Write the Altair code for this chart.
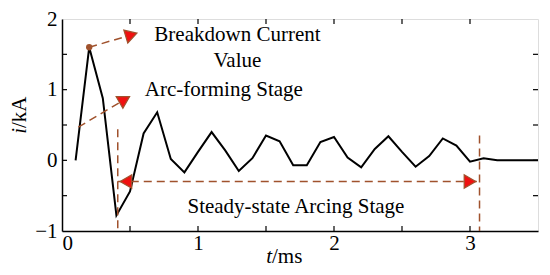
import altair as alt
import pandas as pd

# waveform
t_ms = [0.1, 0.2, 0.3, 0.4, 0.5, 0.6, 0.7, 0.8, 0.9, 1.0, 1.1, 1.2, 1.3, 1.4, 1.5, 1.6, 1.7, 1.8,
        1.9, 2.0, 2.1, 2.2, 2.3, 2.4, 2.5, 2.6, 2.7, 2.8, 2.9, 3.0, 3.1, 3.2, 3.3, 3.4, 3.5]
i_ka = [0.0, 1.6, 0.88, -0.78, -0.44, 0.38, 0.68, 0.02, -0.17, 0.12, 0.40, 0.14, -0.15, 0.03, 0.35,
        0.27, -0.07, -0.07, 0.26, 0.33, 0.04, -0.10, 0.16, 0.34, 0.12, -0.09, 0.06, 0.31, 0.21,
        -0.02, 0.03, 0.0, 0.0, 0.0, 0.0]

x_labels = [0, 1, 2, 3]
x_ticks = [0.5, 1, 1.5, 2, 2.5, 3]
y_labels = [-1, -0.5, 0, 0.5, 1, 1.5, 2]
y_ticks = [-0.5, 0, 0.5, 1, 1.5]

# annotations
peak_t, peak_i = [0.2], [1.6]
seg_id = ["bd", "bd", "af", "af", "v1", "v1", "v2", "v2", "h", "h"]
seg_t = [0.2, 0.5, 0.12, 0.46, 0.41, 0.41, 3.07, 3.07, 0.41, 3.07]
seg_i = [1.6, 1.77, 0.47, 0.86, 0.44, -1.0, 0.35, -1.0, -0.30, -0.30]
head_t = [0.51, 0.46, 0.47, 3.0]
head_i = [1.775, 0.86, -0.30, -0.30]
head_shape = ["triangle-right", "triangle-right", "triangle-left", "triangle-right"]
head_angle = [343, 330, 0, 0]
txt = ["Breakdown Current", "Value", "Arc-forming Stage", "Steady-state Arcing Stage"]
txt_t = [1.29, 1.29, 1.19, 1.72]
txt_i = [1.77, 1.40, 1.00, -0.66]

W, H = 476, 212
FONT = "'Liberation Serif', 'Times New Roman', 'DejaVu Serif', serif"
FS = 21
BROWN = "#A0522D"
RED = "#F01010"

xs = alt.Scale(domain=[0, 3.5], nice=False, zero=False)
ys = alt.Scale(domain=[-1, 2], nice=False, zero=False)

df = pd.DataFrame({"t": t_ms, "i": i_ka})
line = alt.Chart(df).mark_line(color="black", strokeWidth=2).encode(
    x=alt.X("t:Q", scale=xs, axis=alt.Axis(values=x_labels, title=None, ticks=False, grid=False,
                                           labelFont=FONT, labelFontSize=FS, labelColor="black",
                                           domainColor="black", domainWidth=1.5, labelPadding=1,
                                           format="~g")),
    y=alt.Y("i:Q", scale=ys, axis=alt.Axis(values=y_labels, title=None, ticks=False, grid=False,
                                           labelFont=FONT, labelFontSize=FS, labelColor="black",
                                           domainColor="black", domainWidth=1.5, labelPadding=5,
                                           format="~g")),
)

dxt = pd.DataFrame({"v": x_ticks})
dyt = pd.DataFrame({"v": y_ticks})
tick_b = alt.Chart(dxt).mark_rule(color="black", strokeWidth=1.2).encode(
    x=alt.X("v:Q", scale=xs), y=alt.value(H), y2=alt.value(H - 5))
tick_t = alt.Chart(dxt).mark_rule(color="black", strokeWidth=1.2).encode(
    x=alt.X("v:Q", scale=xs), y=alt.value(0), y2=alt.value(5))
tick_l = alt.Chart(dyt).mark_rule(color="black", strokeWidth=1.2).encode(
    y=alt.Y("v:Q", scale=ys), x=alt.value(0), x2=alt.value(5))
tick_r = alt.Chart(dyt).mark_rule(color="black", strokeWidth=1.2).encode(
    y=alt.Y("v:Q", scale=ys), x=alt.value(W), x2=alt.value(W - 5))

dseg = pd.DataFrame({"id": seg_id, "t": seg_t, "i": seg_i, "o": list(range(len(seg_id)))})
segs = alt.Chart(dseg).mark_line(color=BROWN, strokeWidth=1.5, strokeDash=[8, 5]).encode(
    x=alt.X("t:Q", scale=xs), y=alt.Y("i:Q", scale=ys), detail="id:N", order="o:Q")

dhead = pd.DataFrame({"t": head_t, "i": head_i, "s": head_shape, "a": head_angle})
heads = alt.Chart(dhead).mark_point(filled=True, fill=RED, stroke=BROWN, strokeWidth=1.2,
                                    size=180, opacity=1).encode(
    x=alt.X("t:Q", scale=xs), y=alt.Y("i:Q", scale=ys),
    shape=alt.Shape("s:N", scale=None), angle=alt.Angle("a:Q", scale=None))

dpk = pd.DataFrame({"t": peak_t, "i": peak_i})
peak = alt.Chart(dpk).mark_circle(color=BROWN, size=40, opacity=1).encode(
    x=alt.X("t:Q", scale=xs), y=alt.Y("i:Q", scale=ys))

dtxt = pd.DataFrame({"t": txt_t, "i": txt_i, "s": txt})
texts = alt.Chart(dtxt).mark_text(font=FONT, fontSize=FS, color="black", align="center",
                                  baseline="middle").encode(
    x=alt.X("t:Q", scale=xs), y=alt.Y("i:Q", scale=ys), text="s:N")

# axis titles (italic variable + unit)
xt1 = alt.Chart().mark_text(font=FONT, fontSize=FS, fontStyle="italic", align="right",
                            baseline="middle", color="black").encode(
    x=alt.value(210), y=alt.value(238), text=alt.value("t"))
xt2 = alt.Chart().mark_text(font=FONT, fontSize=FS, align="left", baseline="middle",
                            color="black").encode(
    x=alt.value(210), y=alt.value(238), text=alt.value("/ms"))
yt1 = alt.Chart().mark_text(font=FONT, fontSize=FS, fontStyle="italic", align="right",
                            baseline="middle", angle=270, color="black").encode(
    x=alt.value(-42), y=alt.value(109), text=alt.value("i"))
yt2 = alt.Chart().mark_text(font=FONT, fontSize=FS, align="left", baseline="middle",
                            angle=270, color="black").encode(
    x=alt.value(-42), y=alt.value(109), text=alt.value("/kA"))

chart = alt.layer(line, tick_b, tick_t, tick_l, tick_r, segs, heads, peak, texts,
                  xt1, xt2, yt1, yt2).properties(
    width=W, height=H, autosize=alt.AutoSizeParams(type="none"),
    padding={"left": 54, "top": 11, "right": 4, "bottom": 44},
).configure_view(stroke="black", strokeWidth=1.5).configure(background="white")

chart.save("out.html", embed_options={"renderer": "svg", "actions": False})
